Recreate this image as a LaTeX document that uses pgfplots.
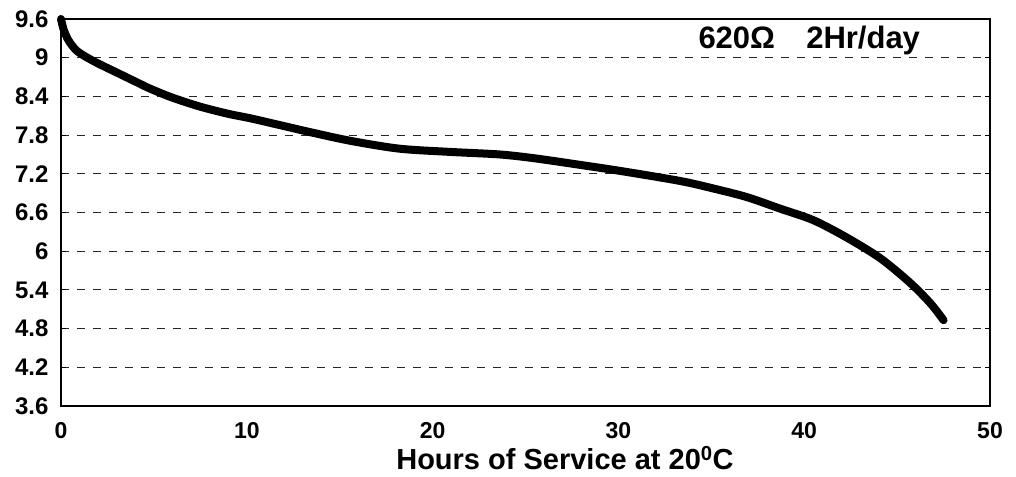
\documentclass[border=0pt]{standalone}
\usepackage{fontspec}
\setmainfont{Liberation Sans}
\usepackage{pgfplots}
\pgfplotsset{compat=1.18}
\begin{document}
\begin{tikzpicture}[x=1pt,y=1pt]
\path[use as bounding box] (0,0) rectangle (1016,476);
\begin{axis}[
  scale only axis, width=929pt, height=387pt,
  at={(61pt,70pt)}, anchor=south west,
  xmin=0, xmax=50, ymin=3.6, ymax=9.6,
  xtick={0,10,20,30,40,50},
  xticklabels={0,10,20,30,40,50},
  ytick={3.6,4.2,4.8,5.4,6,6.6,7.2,7.8,8.4,9,9.6},
  yticklabels={3.6,4.2,4.8,5.4,6,6.6,7.2,7.8,8.4,9,9.6},
  ymajorgrids,
  major grid style={black!85, line width=0.9pt, dash pattern=on 8pt off 8pt},
  axis line style={black, line width=2pt},
  tick align=inside, major tick length=5pt,
  ytick style={black, line width=1pt},
  xtick style={draw=none},
  yticklabel style={font=\bfseries\fontsize{24}{24}\selectfont, xshift=-9pt},
  xticklabel style={font=\bfseries\fontsize{23}{23}\selectfont, yshift=-13pt},
  clip=false,
]
\addplot[black, line width=8pt, smooth, tension=0.5, line cap=round] coordinates {
(0,9.6) (0.15,9.43) (0.4,9.27) (0.8,9.12) (1.3,9.02) (2,8.91) (3,8.77) (4,8.63)
(4.8,8.52) (6,8.38) (7.5,8.24) (9,8.13) (10.2,8.06) (12,7.94) (13.5,7.84)
(15.6,7.71) (18.2,7.59) (20.9,7.54) (23.6,7.50) (25.5,7.44) (27.9,7.34)
(30.2,7.24) (33.3,7.09) (35,6.98) (36.9,6.84) (38.7,6.66) (40.5,6.48)
(42.3,6.21) (44.1,5.89) (45.7,5.51) (46.8,5.19) (47.5,4.93)
};
\node[anchor=base west, inner sep=0, font=\bfseries\fontsize{31}{31}\selectfont] at (axis cs:34.3,9.15) {620Ω};
\node[anchor=base west, inner sep=0, font=\bfseries\fontsize{31}{31}\selectfont] at (axis cs:40.1,9.15) {2Hr/day};
\end{axis}
\node[anchor=base, inner sep=0, font=\bfseries\fontsize{29}{29}\selectfont] at (565,6) {Hours of Service at 20\textsuperscript{0}C};
\end{tikzpicture}
\end{document}
